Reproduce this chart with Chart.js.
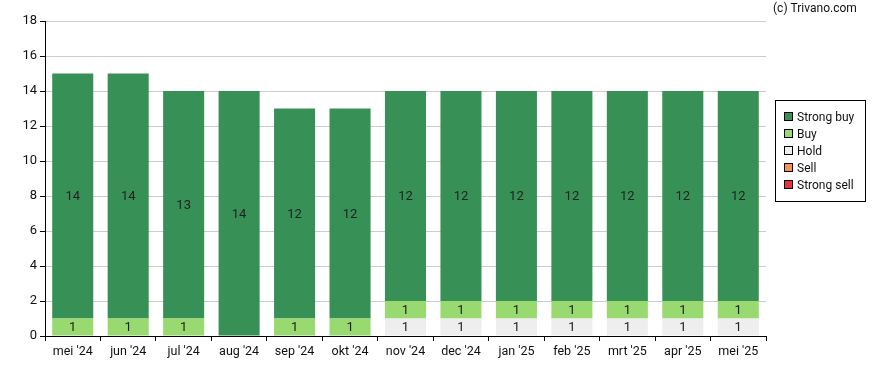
<!DOCTYPE html>
<html>
<head>
<meta charset="utf-8">
<script src="https://cdn.jsdelivr.net/npm/chart.js@4"></script>
<style>
  html, body { margin: 0; padding: 0; background: #fff; }
  #wrap { position: relative; width: 888px; height: 370px; }
</style>
</head>
<body>
<div id="wrap"><canvas id="adviesChart" width="888" height="370"></canvas></div>
<script>
// maanden op de x-as
const months = ["mei '24", "jun '24", "jul '24", "aug '24", "sep '24", "okt '24", "nov '24",
                "dec '24", "jan '25", "feb '25", "mrt '25", "apr '25", "mei '25"];
// aantallen adviezen per maand
const strongBuy  = [14, 14, 13, 14, 12, 12, 12, 12, 12, 12, 12, 12, 12];
const buy        = [1, 1, 1, 0, 1, 1, 1, 1, 1, 1, 1, 1, 1];
const hold       = [0, 0, 0, 0, 0, 0, 1, 1, 1, 1, 1, 1, 1];
const sell       = [0, 0, 0, 0, 0, 0, 0, 0, 0, 0, 0, 0, 0];
const strongSell = [0, 0, 0, 0, 0, 0, 0, 0, 0, 0, 0, 0, 0];
const yTicks = [0, 2, 4, 6, 8, 10, 12, 14, 16, 18];

const FONT = 'Roboto, "Liberation Sans", sans-serif';

// getallen midden in de segmenten
const segmentLabels = {
    id: 'segmentLabels',
    afterDatasetsDraw(chart) {
        const ctx = chart.ctx;
        ctx.save();
        ctx.font = '13px ' + FONT;
        ctx.fillStyle = '#222';
        ctx.textAlign = 'center';
        ctx.textBaseline = 'middle';
        chart.data.datasets.forEach((ds, i) => {
            const meta = chart.getDatasetMeta(i);
            meta.data.forEach((bar, j) => {
                const v = ds.data[j];
                if (!v) return;
                const mid = (bar.y + bar.base) / 2;
                ctx.fillText(String(v), bar.x, mid + 1);
            });
        });
        ctx.restore();
    }
};

// legenda met kader en copyright tekst
const boxLegend = {
    id: 'boxLegend',
    afterDraw(chart) {
        const ctx = chart.ctx;
        ctx.save();
        ctx.font = '12px ' + FONT;
        ctx.fillStyle = '#111';
        ctx.textAlign = 'left';
        ctx.textBaseline = 'middle';
        ctx.fillText('(c) Trivano.com', 773, 9);

        ctx.strokeStyle = '#000';
        ctx.lineWidth = 1;
        ctx.strokeRect(775.5, 100.5, 90, 101);

        const items = chart.data.datasets.slice().reverse();
        items.forEach((ds, i) => {
            const y = 117 + i * 17;
            ctx.fillStyle = ds.backgroundColor;
            ctx.fillRect(784, y - 4, 8, 8);
            ctx.strokeStyle = '#000';
            ctx.strokeRect(784.5, y - 4.5, 8, 8);
            ctx.fillStyle = '#111';
            ctx.fillText(ds.label, 797, y + 1);
        });
        ctx.restore();
    }
};

const ctx = document.getElementById('adviesChart').getContext('2d');
new Chart(ctx, {
    type: 'bar',
    data: {
        labels: months,
        datasets: [
            { label: 'Strong sell', data: strongSell, backgroundColor: '#e8313f' },
            { label: 'Sell', data: sell, backgroundColor: '#f7914f' },
            { label: 'Hold', data: hold, backgroundColor: '#eeeeee' },
            { label: 'Buy', data: buy, backgroundColor: '#98d970' },
            { label: 'Strong buy', data: strongBuy, backgroundColor: '#379157' }
        ]
    },
    options: {
        responsive: false,
        animation: false,
        layout: { padding: { top: 21, right: 122, left: 0, bottom: 0 } },
        datasets: { bar: { categoryPercentage: 1, barPercentage: 0.74, borderWidth: 0 } },
        plugins: {
            legend: { display: false },
            tooltip: { enabled: false }
        },
        scales: {
            x: {
                stacked: true,
                grid: { drawOnChartArea: false, drawTicks: true, tickLength: 5, tickColor: '#000' },
                border: { color: '#000', width: 1 },
                ticks: { color: '#111', padding: 3, maxRotation: 0, autoSkip: false, font: { family: FONT, size: 12.5 } },
                afterFit(scale) { scale.height = 34; }
            },
            y: {
                stacked: true,
                min: 0,
                max: 18,
                afterBuildTicks(scale) { scale.ticks = yTicks.map(v => ({ value: v })); },
                grid: { color: '#cccccc', tickLength: 5, tickColor: '#000' },
                border: { color: '#000', width: 1 },
                ticks: { color: '#111', padding: 3, font: { family: FONT, size: 13 } },
                afterFit(scale) { scale.width = 45; }
            }
        }
    },
    plugins: [segmentLabels, boxLegend]
});
</script>
</body>
</html>
